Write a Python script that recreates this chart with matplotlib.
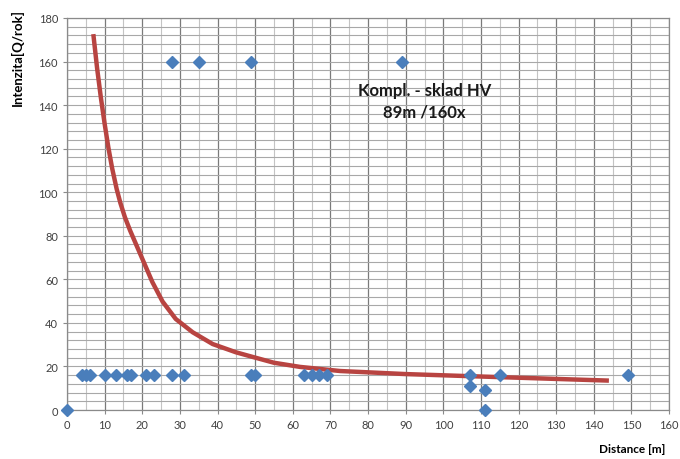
import numpy as np
import matplotlib
matplotlib.use('Agg')
import matplotlib.pyplot as plt
from matplotlib.ticker import MultipleLocator

plt.rcParams['font.family'] = ['Lato', 'DejaVu Sans']

# measured points (distance [m], intensity [Q/rok])
dist = [0, 4, 5, 6, 10, 13, 16, 17, 21, 23, 28, 31, 49, 50, 63, 65, 67, 69,
        28, 35, 49, 89,
        107, 107, 111, 111, 115, 149]
intens = [0, 16, 16, 16, 16, 16, 16, 16, 16, 16, 16, 16, 16, 16, 16, 16, 16, 16,
          160, 160, 160, 160,
          16, 11, 9, 0, 16, 16]

# trend line
trend_x = [7.0, 8.0, 9.0, 10.0, 11.0, 12.0, 13.2, 14.2, 15.4, 16.8, 18.3, 20.5, 22.7,
           25.4, 28.9, 33.4, 38.7, 44.9, 49.5, 55, 61.9, 72.6, 90, 107.7, 144]
trend_y = [172.6, 157, 143.5, 131.5, 120.5, 111, 101.5, 95, 88.5, 82.3, 76.3, 67.5, 58.7,
           49.8, 41.8, 35.7, 30.3, 26.5, 24.3, 21.7, 19.8, 17.9, 16.5, 15.5, 13.5]

fig = plt.figure(figsize=(6.8, 4.6), dpi=100)
ax = fig.add_axes([0.0985, 0.1065, 0.8855, 0.8522])

ax.set_xlim(0, 160)
ax.set_ylim(0, 180)
ax.xaxis.set_major_locator(MultipleLocator(10))
ax.xaxis.set_minor_locator(MultipleLocator(5))
ax.yaxis.set_major_locator(MultipleLocator(20))
ax.yaxis.set_minor_locator(MultipleLocator(4))

ax.grid(True, which='major', axis='x', color='#7a7a7a', lw=0.9)
ax.grid(True, which='minor', axis='x', color='#c4c4c4', lw=0.8)
ax.grid(True, which='both', axis='y', color='#a8a8a8', lw=0.8)
ax.set_axisbelow(True)
for s in ax.spines.values():
    s.set_color('#8a8a8a')
    s.set_linewidth(0.9)

ax.tick_params(which='major', length=3, color='#8a8a8a', labelsize=8, labelcolor='#404040')
ax.tick_params(which='minor', length=0)

ax.plot(trend_x, trend_y, color='#b84441', lw=3.2, solid_capstyle='butt',
        solid_joinstyle='round', zorder=2)
ax.plot(dist, intens, 'D', color='#4a7ebb', ms=6.5, ls='none', zorder=3, clip_on=False)

ax.text(95, 142, 'Kompl. - sklad HV\n89m /160x', ha='center', va='center',
        fontsize=12, fontweight='bold', color='#1a1a1a', linespacing=1.4)

fig.text(0.978, 0.01, 'Distance [m]', ha='right', va='bottom', fontsize=8.5, fontweight='bold')
fig.text(0.016, 0.98, 'Intenzita[Q/rok]', ha='left', va='top', rotation=90,
         fontsize=9.5, fontweight='bold')

fig.savefig('out.png', dpi=100)
